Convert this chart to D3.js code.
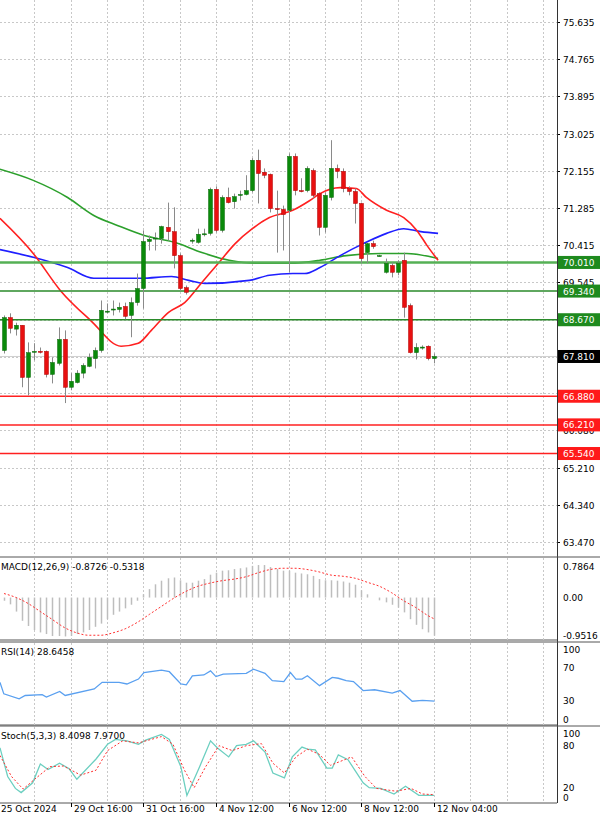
<!DOCTYPE html>
<html><head><meta charset="utf-8">
<script src="https://cdn.jsdelivr.net/npm/d3@7"></script>
<style>body{margin:0;background:#fff}svg{display:block}text{font-family:"DejaVu Sans",sans-serif;font-size:9px}</style>
</head><body><svg id="c" width="600" height="814"></svg>
<script>
// OHLC per 4H candle
const opens =[67.95,68.72,68.45,68.54,67.32,67.93,67.93,67.93,67.39,67.65,68.21,67.09,67.20,67.42,67.58,67.76,67.95,68.86,68.90,68.91,68.98,68.77,69.07,69.40,70.50,70.57,70.57,70.83,70.73,70.17,69.42,70.52,70.48,70.67,70.69,71.72,70.76,71.53,71.43,71.58,71.60,71.69,72.40,72.12,72.07,71.27,71.25,71.23,72.49,71.69,71.69,72.16,71.62,70.83,71.53,72.21,72.14,71.74,71.67,71.39,70.24,70.45,70.17,69.78,69.94,69.78,70.06,69.00,67.90,68.02,68.05,67.76];
const highs =[68.77,68.82,68.60,68.54,68.14,68.12,68.02,67.95,67.79,68.49,68.42,67.42,67.49,67.65,67.88,68.02,69.12,69.05,69.12,69.07,69.07,69.19,69.75,70.76,70.64,70.71,70.87,71.41,71.30,70.22,69.47,70.57,70.80,70.80,71.76,71.79,71.58,71.76,71.62,71.69,72.05,72.45,72.65,72.21,72.09,71.69,71.34,72.56,72.56,71.98,72.26,72.21,71.65,71.65,72.87,72.30,72.21,71.79,71.74,71.41,70.47,70.52,70.19,70.10,70.01,70.06,70.24,69.05,68.12,68.07,68.07,67.88];
const lows  =[67.88,68.35,68.30,67.09,66.90,67.72,67.88,67.32,67.18,67.60,66.72,67.02,67.18,67.30,67.56,67.53,67.90,68.82,68.77,68.84,68.68,68.26,69.00,68.93,70.29,70.29,70.45,70.52,69.87,69.35,69.26,70.45,70.45,70.62,70.64,70.71,70.71,71.39,71.27,71.46,71.58,71.65,71.39,71.98,71.18,70.24,70.29,69.78,71.58,71.65,71.65,71.51,70.64,70.71,71.46,71.98,71.65,71.58,70.92,69.99,69.99,70.33,70.15,69.75,69.66,69.71,68.72,67.88,67.74,67.97,67.72,67.65];
const closes=[68.72,68.47,68.54,67.32,67.90,67.93,67.92,67.39,67.67,68.21,67.09,67.23,67.42,67.60,67.79,67.95,68.89,68.87,68.92,68.96,68.75,69.07,69.40,70.50,70.55,70.58,70.85,70.73,70.17,69.40,69.31,70.53,70.67,70.68,71.72,70.76,71.53,71.41,71.55,71.60,71.69,72.40,72.09,72.05,71.27,71.25,71.13,72.49,71.69,71.67,72.21,71.58,70.83,71.58,72.21,72.14,71.74,71.67,71.39,70.10,70.45,70.38,70.17,69.99,69.78,69.99,68.96,67.90,68.02,68.03,67.76,67.81];
// moving averages: [candle index, value]
const maRed  =[[-0.67,71.04],[4.83,70.22],[9.33,69.35],[14.33,68.65],[19.33,68.05],[22.17,68.12],[24.33,68.42],[27.17,68.84],[29.83,69.07],[32.67,69.54],[35.5,70.01],[38.17,70.45],[41,70.80],[43.83,71.06],[47.67,71.23],[50.5,71.46],[52.17,71.62],[55.5,71.76],[58.17,71.74],[59.83,71.53],[63.17,71.23],[66,71.06],[68.17,70.76],[69.83,70.41],[71.67,70.06]];
const maBlue =[[-0.67,70.31],[4.83,70.13],[10.5,69.89],[14.83,69.64],[22.67,69.64],[27.67,69.68],[30.5,69.59],[33.17,69.52],[40.5,69.59],[43.83,69.71],[47.67,69.75],[49.67,69.75],[52.17,69.89],[55.5,70.17],[59.33,70.45],[63.17,70.69],[66,70.80],[68.83,70.73],[71.67,70.69]];
const maGreen=[[-0.67,72.19],[4.83,71.93],[10.5,71.53],[14.83,71.11],[18.83,70.87],[23.17,70.64],[28.17,70.48],[32.67,70.24],[37.17,70.06],[41.5,69.99],[47.17,69.99],[52.17,70.06],[56.5,70.17],[62.17,70.22],[66.5,70.22],[71.67,70.10]];
const priceTicks=[75.635,74.765,73.895,73.025,72.155,71.285,70.415,69.545,68.675,67.805,66.950,66.080,65.210,64.340,63.470];
const greenLevels=[70.010,69.340,68.670];
const redLevels=[66.880,66.210,65.540];
const lastPrice=67.810;
const dateLabels=["25 Oct 2024","29 Oct 16:00","31 Oct 16:00","4 Nov 12:00","6 Nov 12:00","8 Nov 12:00","12 Nov 04:00"];
const dateIdx=[-1,11,23,35,47,59,71];
// MACD
const macdHist=[-0.08,-0.17,-0.35,-0.58,-0.71,-0.81,-0.87,-0.91,-0.96,-0.96,-0.97,-0.96,-0.91,-0.87,-0.81,-0.73,-0.65,-0.54,-0.43,-0.35,-0.27,-0.18,-0.08,0.08,0.21,0.33,0.42,0.48,0.50,0.43,0.37,0.37,0.42,0.46,0.57,0.62,0.67,0.68,0.71,0.73,0.75,0.79,0.81,0.81,0.76,0.71,0.67,0.67,0.62,0.60,0.58,0.54,0.46,0.43,0.43,0.42,0.40,0.37,0.32,0.18,0.08,0.0,-0.07,-0.12,-0.18,-0.25,-0.37,-0.54,-0.68,-0.79,-0.87,-0.95];
const macdSignal=[[0,0.10],[2,0.0],[4,-0.15],[6,-0.35],[8,-0.55],[10,-0.75],[12,-0.88],[14,-0.94],[16,-0.94],[18,-0.88],[20,-0.78],[22,-0.62],[24,-0.42],[26,-0.22],[28,-0.02],[30,0.15],[32,0.28],[34,0.36],[36,0.42],[38,0.46],[40,0.52],[42,0.62],[44,0.70],[46,0.73],[48,0.73],[50,0.70],[52,0.64],[54,0.56],[56,0.53],[58,0.48],[60,0.38],[62,0.28],[64,0.12],[66,-0.08],[68,-0.25],[70,-0.45],[71,-0.53]];
const macdTicks=[0.7864,0.00,-0.9516];
// RSI
const rsi=[[-0.66,52],[-0.03,38],[2.5,32],[3.5,36],[6.3,37],[7,34],[9.2,41],[10.1,36],[14.9,44],[16.2,52],[19,52],[20.3,50],[22.2,56],[23.1,64],[26,67],[27.3,65],[29.2,50],[30.1,49],[31.1,60],[33,61],[34.1,66],[35,59],[36.2,62],[40,63],[41.2,68],[43.1,63],[44.3,54],[46.2,53],[47.3,64],[48.2,56],[49.2,56],[50.1,60],[52.1,48],[54.2,58],[55.2,57],[56.5,54],[57.7,53],[59.3,42],[61.2,43],[64.1,39],[65.4,42],[67.4,29],[69.1,30],[71.1,29]];
const rsiTicks=[100,70,30,0];
// Stochastic
const stochK=[[-0.66,76],[0.61,35],[1.88,18],[2.83,12],[4.73,26],[6.0,53],[7.27,45],[9.17,54],[10.76,46],[12.03,31],[15.2,60],[17.1,81],[18.4,88],[20.3,86],[22.2,81],[23.4,87],[26.0,95],[27.3,88],[29.2,49],[30.2,8],[32.3,49],[34.1,86],[35.2,76],[37.1,63],[38.4,79],[40.0,81],[41.2,86],[43.1,70],[44.4,40],[46.3,33],[47.6,63],[49.2,77],[50.1,74],[51.4,73],[53.3,47],[54.2,47],[55.2,66],[56.8,59],[59.3,26],[60.3,19],[62.2,18],[64.4,10],[66.3,21],[68.5,8],[71.0,8]];
const stochD=[[-0.66,65],[1.24,35],[3.15,17],[5.05,31],[7.59,49],[9.81,50],[12.66,37],[15.2,44],[17.1,72],[19.6,86],[22.2,83],[26.0,92],[27.9,81],[29.8,44],[31.4,19],[33.3,49],[35.5,79],[37.7,72],[40.0,79],[42.5,82],[44.4,54],[46.3,40],[48.2,63],[50.1,74],[52.0,67],[53.9,51],[57.4,63],[59.6,35],[61.5,18],[64.7,14],[67.2,18],[69.1,10],[71.0,9]];
const stochTicks=[100,80,20,0];

const svg=d3.select("#c");
const AX=557, W=600;
const x=d3.scaleLinear().domain([0,71]).range([4,434]);
const y=d3.scaleLinear().domain([63.470,75.635]).range([542,22]);
const gridC="#c8c8c8";

function vgrid(top,bot){
  for(let i=-1;i<=90;i+=6){const xx=Math.round(x(i))+0.5; if(xx>0&&xx<AX)
    svg.append("line").attr("x1",xx).attr("x2",xx).attr("y1",top).attr("y2",bot).attr("stroke",gridC).attr("stroke-dasharray","2,2");}
}
// main panel
vgrid(0,556);
priceTicks.forEach(v=>{const yy=Math.round(y(v))+0.5;
  svg.append("line").attr("x1",0).attr("x2",AX).attr("y1",yy).attr("y2",yy).attr("stroke",gridC).attr("stroke-dasharray","2,2");
  svg.append("line").attr("x1",AX).attr("x2",AX+3).attr("y1",yy).attr("y2",yy).attr("stroke","#000");
  svg.append("text").attr("x",AX+6).attr("y",yy+3.5).text(v.toFixed(3));
});
// last price line
svg.append("line").attr("x1",0).attr("x2",AX).attr("y1",y(lastPrice)).attr("y2",y(lastPrice)).attr("stroke","#d0d0d0");
// MAs
const lineGen=d3.line().x(d=>x(d[0])).y(d=>y(d[1])).curve(d3.curveMonotoneX);
[[maGreen,"#2ca02c"],[maBlue,"#1f1fff"],[maRed,"#ff2020"]].forEach(([d,c])=>svg.append("path").attr("d",lineGen(d)).attr("fill","none").attr("stroke",c).attr("stroke-width",1.6));
// levels
greenLevels.forEach((v,k)=>svg.append("line").attr("x1",0).attr("x2",AX).attr("y1",y(v)).attr("y2",y(v)).attr("stroke",k==0?"#55b055":"#2a8a2a").attr("stroke-width",k==0?2.5:1.5));
redLevels.forEach(v=>svg.append("line").attr("x1",0).attr("x2",AX).attr("y1",y(v)).attr("y2",y(v)).attr("stroke","#ff2020").attr("stroke-width",1.5));
// candles
const cw=4;
opens.forEach((o,i)=>{
  const c=closes[i], up=c>=o, xx=Math.round(x(i));
  svg.append("line").attr("x1",xx+0.5).attr("x2",xx+0.5).attr("y1",y(highs[i])).attr("y2",y(lows[i])).attr("stroke","#8a8a8a");
  const t=y(Math.max(o,c)), b=y(Math.min(o,c));
  svg.append("rect").attr("x",xx-1.5).attr("y",t).attr("width",cw).attr("height",Math.max(1,b-t))
    .attr("fill",up?"#0a8a0a":"#e81010").attr("stroke",up?"#0a6a0a":"#b00000").attr("stroke-width",0.5);
});
// price labels
function tag(v,bg){const yy=y(v);
  svg.append("rect").attr("x",AX+1).attr("y",yy-6.5).attr("width",W-AX-1).attr("height",13).attr("fill",bg);
  svg.append("text").attr("x",AX+6).attr("y",yy+3.5).attr("fill","#fff").attr("font-size","10px").text(v.toFixed(3));}
greenLevels.forEach(v=>tag(v,"#1e8a1e"));
redLevels.forEach(v=>tag(v,"#ff1a1a"));
tag(lastPrice,"#000");
// panel borders
function panelBorder(top,bot){
  svg.append("line").attr("x1",0).attr("x2",W).attr("y1",top).attr("y2",top).attr("stroke","#555").attr("stroke-width",1);
  svg.append("line").attr("x1",0).attr("x2",AX).attr("y1",bot).attr("y2",bot).attr("stroke","#555").attr("stroke-width",1);
}
svg.append("line").attr("x1",AX+0.5).attr("x2",AX+0.5).attr("y1",0).attr("y2",803).attr("stroke","#333");

// MACD panel
const mT=558,mB=640;
panelBorder(mT-1,mB);
const ym=d3.scaleLinear().domain([-0.9516,0.7864]).range([635.7,566]);
vgrid(mT,mB);
macdHist.forEach((v,i)=>{const xx=Math.round(x(i))+0.5;
  svg.append("line").attr("x1",xx).attr("x2",xx).attr("y1",ym(0)).attr("y2",ym(v)).attr("stroke","#bdbdbd").attr("stroke-width",1.5);});
svg.append("path").attr("d",d3.line().x(d=>x(d[0])).y(d=>ym(d[1])).curve(d3.curveMonotoneX)(macdSignal)).attr("fill","none").attr("stroke","#ff3030").attr("stroke-dasharray","2,2");
macdTicks.forEach(v=>svg.append("text").attr("x",AX+6).attr("y",ym(v)+3.5).text(v===0?"0.00":v.toFixed(4)));
svg.append("text").attr("x",1).attr("y",mT+12).text("MACD(12,26,9) -0.8726 -0.5318");

// RSI panel
const rT=643,rB=725;
panelBorder(rT-1,rB);
const yr=d3.scaleLinear().domain([0,100]).range([rB,rT]);
vgrid(rT,rB);
svg.append("path").attr("d",d3.line().x(d=>x(d[0])).y(d=>yr(d[1]))(rsi)).attr("fill","none").attr("stroke","#5aa0f0").attr("stroke-width",1.3);
rsiTicks.forEach(v=>svg.append("text").attr("x",AX+6).attr("y",Math.min(Math.max(yr(v)+3.5,rT+10),rB-2)).text(v));
svg.append("text").attr("x",1).attr("y",rT+12).text("RSI(14) 28.6458");

// Stoch panel
const sT=727,sB=803;
panelBorder(sT-1,sB);
const ys=d3.scaleLinear().domain([0,100]).range([801,731]);
vgrid(sT,sB);
svg.append("path").attr("d",d3.line().x(d=>x(d[0])).y(d=>ys(d[1]))(stochK)).attr("fill","none").attr("stroke","#6ccfc0").attr("stroke-width",1.3);
svg.append("path").attr("d",d3.line().x(d=>x(d[0])).y(d=>ys(d[1]))(stochD)).attr("fill","none").attr("stroke","#ff3030").attr("stroke-dasharray","2,2");
stochTicks.forEach(v=>svg.append("text").attr("x",AX+6).attr("y",Math.min(Math.max(ys(v)+3.5,sT+10),sB-2)).text(v));
svg.append("text").attr("x",1).attr("y",sT+12).text("Stoch(5,3,3) 8.4098 7.9700");

// date axis
dateLabels.forEach((t,k)=>{const xx=Math.round(x(dateIdx[k]));
  svg.append("line").attr("x1",xx+0.5).attr("x2",xx+0.5).attr("y1",sB).attr("y2",sB+4).attr("stroke","#000");
  svg.append("text").attr("x",xx+3).attr("y",812).text(t);});
</script></body></html>
